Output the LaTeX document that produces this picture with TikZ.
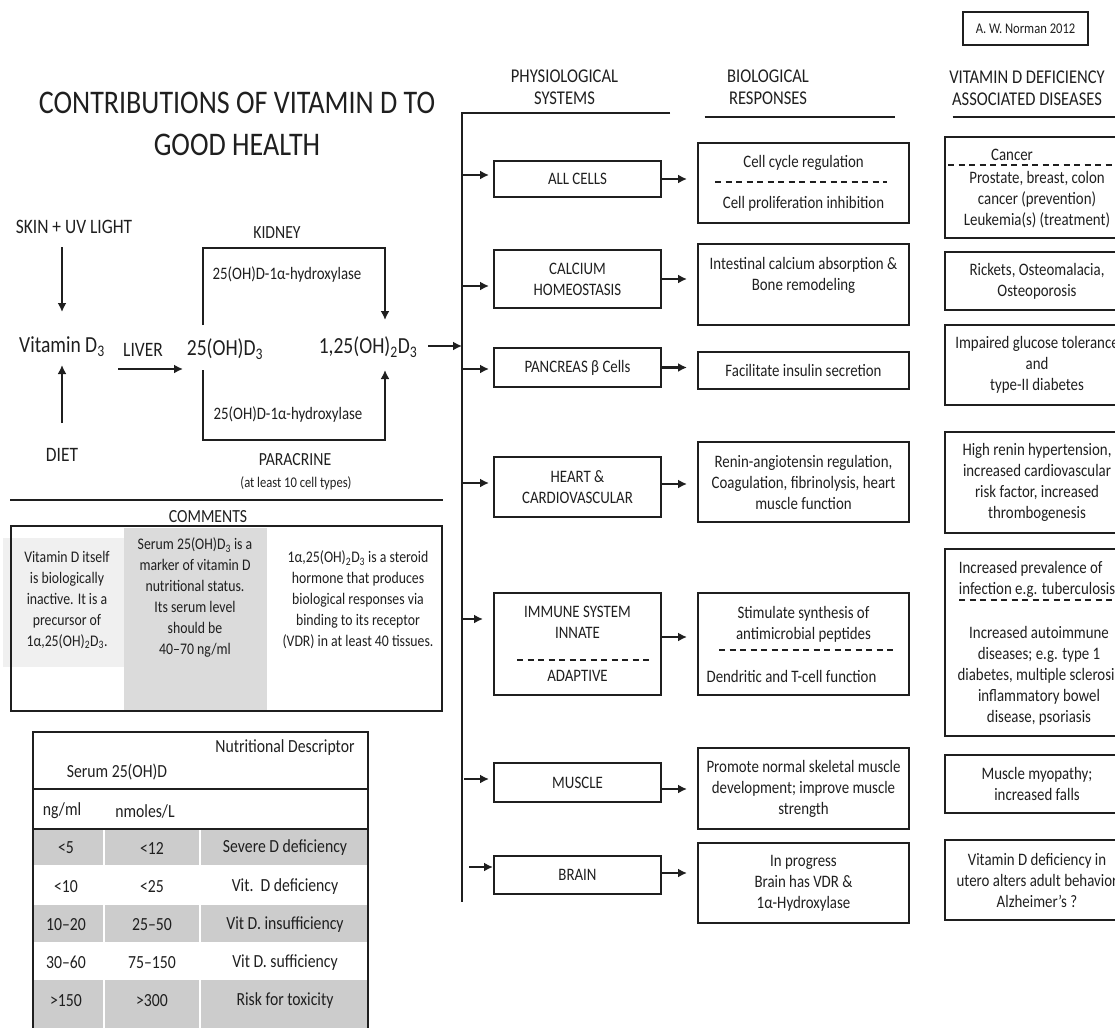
\documentclass[tikz,border=0pt]{standalone}
\usepackage{fontspec}
\setmainfont{Carlito}[FakeStretch=0.85]
\usetikzlibrary{arrows.meta}
\definecolor{inkgray}{gray}{0.12}
\definecolor{lightshade}{gray}{0.94}
\definecolor{midshade}{gray}{0.86}
\definecolor{rowshade}{gray}{0.80}
\newcommand\titlesize{\fontsize{33}{42}\selectfont}
\newcommand\formulasize{\fontsize{23}{28}\selectfont}
\newcommand\tagsize{\fontsize{20.5}{24}\selectfont}
\newcommand\organsize{\fontsize{18.5}{22}\selectfont}
\newcommand\headsize{\fontsize{19.5}{22}\selectfont}
\newcommand\boxsize{\fontsize{17.5}{21}\selectfont}
\newcommand\notesize{\fontsize{16.2}{21}\selectfont}
\newcommand\tablesize{\fontsize{18.5}{22}\selectfont}
\newcommand\minisize{\fontsize{14.8}{18}\selectfont}

\begin{document}
\begin{tikzpicture}[-{Latex[length=9pt,width=9pt]}, x=1pt, y=-1pt, line width=1.8pt, color=inkgray,
  plain/.style={-, line width=2pt},
  flow/.style={line width=2.4pt},
  divider/.style={-, line width=1.5pt, dash pattern=on 6pt off 4.5pt},
  lbl/.style={inner sep=0pt, align=center},
  sysbox/.style={draw, line width=2pt, minimum width=167pt, align=center, inner sep=0pt, font=\boxsize},
  respbox/.style={sysbox, minimum width=211pt},
  disbox/.style={sysbox, minimum width=184pt}]
\useasboundingbox (0,0) rectangle (1115,1027);

% title and synthesis pathway
\node[lbl, font=\titlesize] (title) at (237,124) {CONTRIBUTIONS OF VITAMIN D TO\\GOOD HEALTH};
\node[lbl, font=\tagsize] (skin) at (74,227) {SKIN + UV LIGHT};
\node[lbl, font=\formulasize] (vitd) at (62,347) {Vitamin D\textsubscript{3}};
\node[lbl, font=\tagsize] (diet) at (62,455) {DIET};
\node[lbl, font=\tagsize] (liver) at (143,350) {LIVER};
\node[lbl, font=\formulasize] (oh) at (225,349) {25(OH)D\textsubscript{3}};
\node[lbl, font=\formulasize] (dih) at (368,347) {1,25(OH)\textsubscript{2}D\textsubscript{3}};
\node[lbl, font=\organsize] (kidney) at (277,233) {KIDNEY};
\node[lbl, font=\boxsize] (hydrox kidney) at (287,275) {25(OH)D-1α-hydroxylase};
\node[lbl, font=\boxsize] (hydrox para) at (288,415) {25(OH)D-1α-hydroxylase};
\node[lbl, font=\organsize] (paracrine) at (295,460) {PARACRINE};
\node[lbl, font=\minisize] (cell types) at (296,483) {(at least 10 cell types)};
\coordinate (kidney left) at (203,248);
\coordinate (kidney right) at (385,248);
\coordinate (para left) at (203,440);
\coordinate (para right) at (385,440);

\path[flow] ([yshift=-20pt]skin.center -| vitd.center) edge ([yshift=35pt]vitd.center);
\path[flow] ([yshift=32pt]diet.center) edge ([yshift=-18pt]vitd.center);
\path[flow] ([xshift=-25pt,yshift=-19pt]liver.center) edge ([xshift=40pt,yshift=-19pt]liver.center);
\draw[plain, -{Latex[length=9pt,width=9pt]}] ([yshift=24pt]oh.center -| kidney left) -- (kidney left) -- (kidney right) -- ([yshift=27pt]dih.center -| kidney right);
\draw[plain, -{Latex[length=9pt,width=9pt]}] ([yshift=-21pt]oh.center -| para left) -- (para left) -- (para right) -- ([yshift=-23pt]dih.center -| para right);

% comments
\draw[plain] (10,500) -- (443,500);
\node[lbl, font=\organsize] (comments) at (208,517) {COMMENTS};
\fill[lightshade] (3,538) rectangle (124,667);
\fill[midshade] (124,528) rectangle (267,711);
\draw[plain] (11,526) rectangle (442,711);
\node[lbl, font=\notesize] (note inactive) at (67,600) {Vitamin D itself\\is biologically\\inactive. It is a\\precursor of\\1α,25(OH)\textsubscript{2}D\textsubscript{3}.};
\node[lbl, font=\notesize] (note serum) at (195,597.5) {Serum 25(OH)D\textsubscript{3} is a\\marker of vitamin D\\nutritional status.\\Its serum level\\should be\\40--70 ng/ml};
\node[lbl, font=\notesize] (note hormone) at (358,600) {1α,25(OH)\textsubscript{2}D\textsubscript{3} is a steroid\\hormone that produces\\biological responses via\\binding to its receptor\\(VDR) in at least 40 tissues.};

% nutritional table
\fill[rowshade] (33,829) rectangle (368,865);
\fill[rowshade] (33,905) rectangle (368,942);
\fill[rowshade] (33,980) rectangle (368,1030);
\foreach \ya/\yb in {829/865, 905/942, 980/1030} {
  \draw[-, white, line width=2pt] (104,\ya) -- (104,\yb);
  \draw[-, white, line width=2pt] (200,\ya) -- (200,\yb);
}
\draw[plain] (33,1035) -- (33,732) -- (368,732) -- (368,1035);
\draw[plain] (33,789) -- (368,789);
\draw[plain] (33,829) -- (368,829);
\node[lbl, font=\tablesize] (nutri) at (285,748) {Nutritional Descriptor};
\node[lbl, font=\tablesize] (serum) at (117,772) {Serum 25(OH)D};
\node[lbl, font=\tablesize] (ngml) at (62,811) {ng/ml};
\node[lbl, font=\tablesize] (nmol) at (145,811) {nmoles/L};
\foreach \ng/\nm/\desc [count=\r from 0] in {<5/<12/Severe D deficiency, <10/<25/Vit.\ \ D deficiency, 10--20/25--50/Vit D. insufficiency, 30--60/75--150/Vit D. sufficiency, >150/>300/Risk for toxicity} {
  \node[lbl, font=\tablesize] (ng\r) at (66,848+38.2*\r) {\ng};
  \node[lbl, font=\tablesize] (nm\r) at (152,848+38.2*\r) {\nm};
  \node[lbl, font=\tablesize] (desc\r) at (285,848+38.2*\r) {\desc};
}

% column headers
\node[lbl, font=\headsize] (physio) at (564.5,87) {PHYSIOLOGICAL\\SYSTEMS};
\node[lbl, font=\headsize] (bioresp) at (768,87) {BIOLOGICAL\\RESPONSES};
\node[lbl, font=\headsize] (disease head) at (1027,88) {VITAMIN D DEFICIENCY\\ASSOCIATED DISEASES};
\draw[plain, line width=2.6pt] (704.5,117) -- (895,117);
\draw[plain, line width=2.6pt] (952.5,117) -- (1118,117);
\node[draw, line width=1.8pt, minimum width=125pt, minimum height=33pt, inner sep=0pt, font=\minisize] (norman) at (1025.5,28.5) {A. W. Norman 2012};
\coordinate (trunk top) at (462,113);
\coordinate (trunk end) at (462,902);
\coordinate (trunk head) at (670,113);
\draw[plain] (trunk head) -- (trunk top) -- (trunk end);
\path[flow] ([xshift=60pt,yshift=1pt]dih.center) edge ([yshift=1pt]dih.center -| trunk top);

% physiological systems
\node[sysbox, minimum height=36pt] (allcells) at (577.5,179) {ALL CELLS};
\node[sysbox, minimum height=58pt] (calcium) at (577.5,279) {CALCIUM\\HOMEOSTASIS};
\node[sysbox, minimum height=39pt] (pancreas) at (577.5,367.5) {PANCREAS β Cells};
\node[sysbox, minimum height=60pt] (heart) at (577.5,487) {HEART \&\\CARDIOVASCULAR};
\node[sysbox, minimum height=102pt] (immune) at (577.5,644) {IMMUNE SYSTEM\\INNATE\\[22pt]ADAPTIVE};
\node[sysbox, minimum height=39pt] (muscle) at (577.5,782.5) {MUSCLE};
\node[sysbox, minimum height=38pt] (brain) at (577.5,875) {BRAIN};
\draw[divider] ([xshift=-60.5pt,yshift=-16pt]immune.center) -- ([xshift=71.5pt,yshift=-16pt]immune.center);

% biological responses
\node[respbox, minimum height=80pt] (cycle) at (803.5,183) {Cell cycle regulation\\[20pt]Cell proliferation inhibition};
\node[respbox, minimum height=81pt] (intestine) at (803.5,284.5) {Intestinal calcium absorption \&\\Bone remodeling\\\mbox{}};
\node[respbox, minimum height=37pt] (insulin) at (803.5,370.5) {Facilitate insulin secretion};
\node[respbox, minimum height=80pt] (renin) at (803.5,482) {Renin-angiotensin regulation,\\Coagulation, fibrinolysis, heart\\muscle function};
\node[respbox, minimum height=102pt] (peptides) at (803.5,644) {Stimulate synthesis of\\antimicrobial peptides\\[22pt]Dendritic and T-cell function\hspace*{24pt}};
\node[respbox, minimum height=81pt] (skeletal) at (803.5,788.5) {Promote normal skeletal muscle\\development; improve muscle\\strength};
\node[respbox, minimum height=80pt] (progress) at (803.5,883) {In progress\\Brain has VDR \&\\1α-Hydroxylase};
\draw[divider] ([xshift=-88.5pt,yshift=1pt]cycle.center) -- ([xshift=83.5pt,yshift=1pt]cycle.center);
\draw[divider] ([xshift=-84.5pt,yshift=-6pt]peptides.center) -- ([xshift=89.5pt,yshift=-6pt]peptides.center);

% deficiency diseases
\node[disbox, minimum height=101pt] (cancer) at (1037,187.5) {};
\node[lbl, font=\boxsize] (cancer head) at (1012,155) {Cancer};
\node[lbl, font=\boxsize] (cancer list) at (1037,200) {Prostate, breast, colon\\cancer (prevention)\\Leukemia(s) (treatment)};
\draw[divider] (948,165) -- (1120,165);
\node[disbox, minimum height=58pt] (rickets) at (1037,281) {Rickets, Osteomalacia,\\Osteoporosis};
\node[disbox, minimum height=80pt] (glucose) at (1037,365) {Impaired glucose tolerance\\and\\type-II diabetes};
\node[disbox, minimum height=101pt] (hypertension) at (1037,482.5) {High renin hypertension,\\increased cardiovascular\\risk factor, increased\\thrombogenesis};
\node[disbox, minimum height=187pt] (infection) at (1037,642.5) {};
\node[lbl, font=\boxsize, align=left, anchor=west] (infection top) at (958,579) {Increased prevalence of\\infection e.g. tuberculosis};
\draw[divider] (959,600) -- (1120,600);
\node[lbl, font=\boxsize] (autoimmune) at (1039,675.5) {Increased autoimmune\\diseases; e.g. type 1\\diabetes, multiple sclerosis\\inflammatory bowel\\disease, psoriasis};
\node[disbox, minimum height=58pt] (myopathy) at (1037,784) {Muscle myopathy;\\increased falls};
\node[disbox, minimum height=80pt] (utero) at (1037,880) {Vitamin D deficiency in\\utero alters adult behavior\\Alzheimer's ?};

% arrows from the trunk and to the responses
\path[flow, shorten >=4pt] ([yshift=4pt]allcells.west -| trunk top) edge ([yshift=4pt]allcells.west);
\path[flow, shorten >=4pt] ([yshift=-7pt]calcium.west -| trunk top) edge ([yshift=-7pt]calcium.west);
\path[flow, shorten >=4pt] ([yshift=-1.5pt]pancreas.west -| trunk top) edge ([yshift=-1.5pt]pancreas.west);
\path[flow, shorten >=4pt] ([yshift=4pt]heart.west -| trunk top) edge ([yshift=4pt]heart.west);
\path[flow, shorten >=10pt] ([yshift=25pt]immune.west -| trunk top) edge ([yshift=25pt]immune.west);
\path[flow, shorten >=4pt, shorten <=2pt] ([yshift=3.5pt]muscle.west -| trunk top) edge ([yshift=3.5pt]muscle.west);
\path[flow, shorten <=7pt] ([yshift=8pt]brain.west -| trunk top) edge ([yshift=8pt]brain.west);
\path[flow, shorten >=10pt] (allcells.east) edge (allcells.east -| cycle.west);
\path[flow, shorten >=10pt] (calcium.east) edge (calcium.east -| intestine.west);
\path[flow, shorten >=10pt] (pancreas.east) edge (pancreas.east -| insulin.west);
\path[flow, shorten >=10pt] ([yshift=3pt]heart.east) edge ([yshift=3pt]heart.east -| renin.west);
\path[flow, shorten >=10pt] ([yshift=7pt]immune.east) edge ([yshift=7pt]immune.east -| peptides.west);
\path[flow, shorten >=10pt] ([yshift=-6.5pt]muscle.east) edge ([yshift=-6.5pt]muscle.east -| skeletal.west);
\path[flow, shorten >=10pt] ([yshift=2pt]brain.east) edge ([yshift=2pt]brain.east -| progress.west);
\end{tikzpicture}
\end{document}
